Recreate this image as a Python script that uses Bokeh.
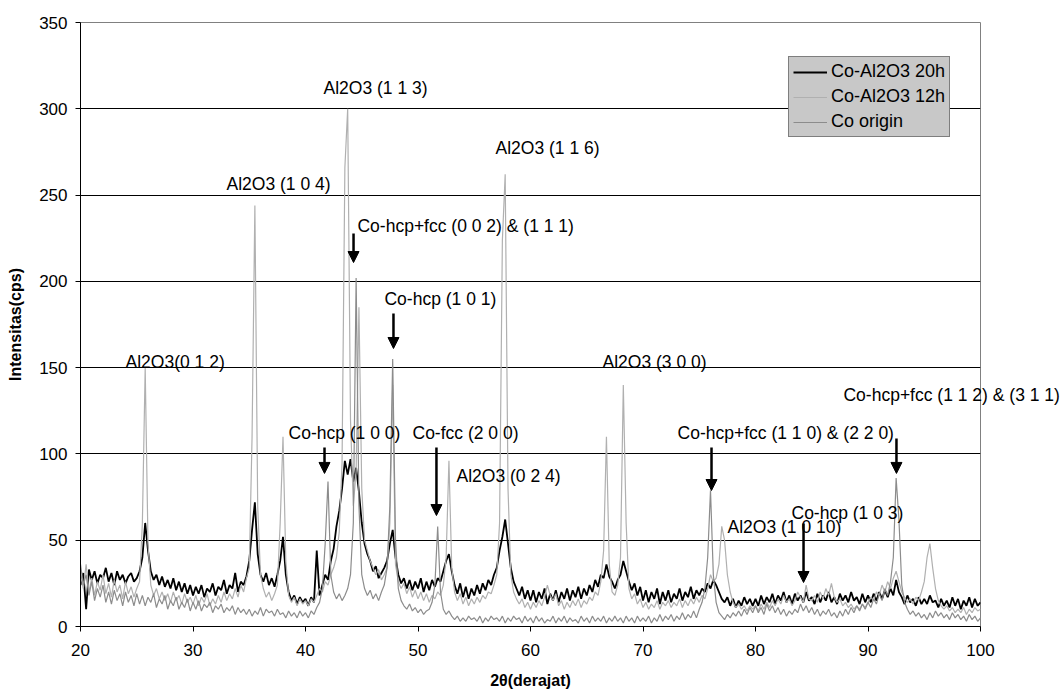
from bokeh.plotting import figure
from bokeh.models import Label, Arrow, NormalHead, Legend, LegendItem, FixedTicker
from bokeh.embed import file_html
from bokeh.resources import INLINE

# ---------------- data ----------------
two_theta_start = 20.0
two_theta_step = 0.25

series_names = ["Co-Al2O3 20h", "Co-Al2O3 12h", "Co origin"]

int_20h = [
    24, 31, 10, 33, 27, 32, 25, 30, 28, 34, 26, 31, 24, 32, 27, 30, 25, 29, 31, 26,
    28, 32, 40, 60, 44, 32, 27, 30, 24, 29, 23, 27, 22, 28, 21, 26, 20, 25, 19, 24,
    18, 23, 19, 24, 17, 22, 20, 25, 18, 23, 21, 27, 19, 24, 22, 31, 20, 26, 24, 29,
    38, 56, 72, 42, 30, 26, 31, 24, 28, 23, 30, 38, 52, 30, 20, 15, 18, 13, 17, 14,
    16, 12, 17, 14, 44, 18, 24, 30, 27, 38, 45, 58, 67, 80, 96, 88, 97, 84, 92, 78,
    60, 48, 42, 38, 32, 35, 28, 31, 34, 38, 48, 56, 40, 30, 25, 28, 22, 27, 21, 26,
    22, 28, 20, 26, 21, 27, 23, 28, 26, 32, 38, 42, 32, 24, 19, 25, 17, 23, 16, 22,
    18, 24, 19, 25, 21, 27, 24, 30, 34, 44, 52, 62, 48, 34, 26, 22, 18, 23, 16, 21,
    15, 21, 14, 20, 16, 22, 13, 19, 15, 21, 14, 20, 16, 22, 15, 21, 17, 23, 16, 22,
    18, 24, 20, 27, 23, 30, 28, 36, 29, 26, 22, 27, 30, 38, 32, 26, 21, 25, 18, 23,
    15, 21, 14, 20, 16, 22, 13, 20, 15, 21, 14, 19, 16, 22, 15, 20, 17, 23, 16, 21,
    18, 22, 20, 25, 22, 27, 24, 20, 16, 14, 17, 12, 16, 11, 15, 12, 17, 13, 16, 12,
    16, 12, 18, 13, 17, 14, 19, 13, 18, 15, 20, 14, 18, 13, 19, 15, 18, 14, 20, 15,
    17, 13, 19, 14, 18, 15, 20, 14, 17, 13, 19, 15, 18, 14, 20, 15, 17, 13, 19, 14,
    18, 14, 19, 15, 20, 16, 21, 17, 22, 18, 27, 20, 17, 13, 18, 14, 16, 12, 17, 13,
    16, 13, 18, 14, 15, 11, 16, 12, 15, 11, 17, 12, 16, 10, 15, 12, 17, 11, 16, 12,
    14,
]

int_12h = [
    30, 22, 36, 20, 28, 18, 26, 21, 30, 19, 25, 17, 27, 20, 24, 16, 26, 19, 23, 17,
    22, 26, 60, 150, 48, 24, 18, 22, 16, 20, 15, 19, 14, 20, 15, 18, 13, 19, 14, 17,
    13, 18, 12, 17, 14, 19, 12, 16, 13, 18, 14, 20, 15, 19, 16, 22, 17, 24, 20, 28,
    34, 110, 244, 70, 30, 22, 17, 20, 15, 19, 24, 60, 110, 38, 18, 14, 17, 12, 16, 13,
    15, 12, 16, 14, 18, 22, 20, 26, 24, 30, 34, 40, 55, 95, 266, 300, 120, 70, 90, 185,
    80, 50, 44, 38, 34, 30, 33, 27, 30, 34, 60, 140, 36, 26, 22, 25, 19, 23, 17, 21,
    16, 20, 15, 19, 14, 18, 16, 20, 18, 24, 40, 96, 34, 20, 15, 19, 13, 17, 12, 16,
    13, 17, 14, 18, 16, 20, 19, 24, 30, 60, 224, 262, 80, 30, 20, 16, 13, 16, 11, 14,
    10, 14, 11, 15, 12, 17, 24, 18, 15, 19, 12, 15, 10, 14, 11, 15, 12, 16, 11, 15,
    13, 17, 15, 20, 18, 26, 44, 110, 36, 20, 18, 24, 40, 140, 60, 22, 16, 19, 13, 16,
    11, 14, 10, 13, 11, 15, 10, 14, 12, 15, 11, 14, 12, 16, 11, 15, 12, 16, 13, 17,
    14, 18, 16, 22, 30, 26, 28, 36, 58, 50, 30, 20, 14, 11, 13, 10, 12, 9, 12, 10,
    12, 9, 13, 10, 14, 11, 15, 12, 16, 13, 18, 14, 16, 12, 15, 20, 17, 14, 24, 16,
    15, 18, 14, 20, 16, 22, 18, 25, 17, 14, 16, 12, 14, 11, 13, 10, 12, 10, 13, 11,
    14, 17, 15, 20, 18, 24, 20, 26, 22, 28, 32, 26, 20, 17, 14, 16, 13, 17, 15, 20,
    26, 40, 48, 34, 22, 15, 12, 10, 12, 9, 11, 8, 10, 8, 11, 7, 10, 8, 11, 9,
    10,
]

int_origin = [
    36, 24, 30, 18, 26, 15, 22, 17, 24, 14, 20, 13, 21, 15, 19, 12, 20, 14, 18, 12,
    19, 13, 18, 12, 17, 14, 19, 11, 16, 13, 18, 10, 15, 12, 17, 10, 14, 11, 16, 9,
    14, 10, 15, 9, 13, 11, 14, 8, 12, 10, 13, 8, 11, 9, 12, 7, 11, 8, 10, 7,
    10, 6, 9, 7, 11, 6, 10, 8, 9, 6, 10, 7, 8, 5, 9, 6, 8, 5, 9, 6,
    8, 5, 9, 7, 11, 14, 22, 48, 84, 30, 20, 16, 19, 15, 18, 22, 30, 60, 202, 70,
    30, 22, 18, 21, 16, 19, 15, 20, 24, 34, 70, 155, 50, 22, 15, 12, 10, 13, 9, 11,
    8, 10, 7, 9, 10, 14, 24, 58, 20, 10, 7, 9, 6, 4, 6, 3, 5, 3, 6, 4,
    5, 3, 6, 2, 5, 3, 6, 4, 5, 3, 6, 2, 5, 3, 6, 4, 5, 2, 6, 3,
    5, 2, 6, 3, 5, 2, 4, 3, 6, 2, 5, 3, 6, 2, 5, 3, 4, 2, 6, 3,
    5, 2, 6, 3, 5, 3, 6, 2, 5, 3, 6, 3, 5, 2, 6, 3, 5, 2, 6, 3,
    5, 3, 6, 2, 5, 3, 7, 3, 6, 4, 7, 3, 6, 4, 8, 4, 7, 5, 9, 5,
    10, 14, 22, 40, 79, 30, 14, 8, 6, 4, 7, 5, 8, 6, 9, 6, 10, 7, 11, 8,
    12, 8, 11, 7, 13, 9, 12, 8, 11, 7, 10, 6, 9, 7, 10, 8, 13, 9, 12, 8,
    11, 7, 10, 6, 9, 7, 10, 6, 8, 5, 9, 6, 10, 7, 11, 8, 12, 9, 13, 10,
    14, 11, 16, 13, 19, 15, 22, 18, 26, 40, 86, 62, 24, 14, 10, 7, 9, 6, 8, 5,
    7, 4, 8, 5, 9, 6, 8, 5, 7, 4, 8, 5, 7, 4, 6, 3, 7, 4, 6, 3,
    5,
]

x_ticks = [20, 30, 40, 50, 60, 70, 80, 90, 100]
y_ticks = [0, 50, 100, 150, 200, 250, 300, 350]

peak_labels = [
    "Al2O3(0 1 2)", "Al2O3 (1 0 4)", "Al2O3 (1 1 3)", "Co-hcp+fcc (0 0 2) & (1 1 1)",
    "Al2O3 (1 1 6)", "Co-hcp (1 0 1)", "Al2O3 (3 0 0)",
    "Co-hcp (1 0 0)", "Co-fcc (2 0 0)", "Al2O3 (0 2 4)", "Co-hcp+fcc (1 1 0) & (2 2 0)",
    "Al2O3 (1 0 10)", "Co-hcp (1 0 3)",
]
# label anchor (left, middle) in data units
label_x = [24.0, 32.98, 41.6, 44.62, 56.89, 47.02, 66.4,
           38.49, 49.51, 53.42, 73.07, 77.51, 83.2]
label_y = [153, 256.7, 311.8, 231.8, 277, 190, 153,
           112.4, 112.4, 87.5, 112.4, 57.4, 65.5]

# the one label that runs past the right edge of the plot area
edge_label = "Co-hcp+fcc (1 1 2) & (3 1 1)"
edge_label_x = 87.82
edge_label_y = 134.4

# arrows: x, y_start, y_end (data units)
arrow_x = [44.27, 47.82, 41.69, 51.64, 76.09, 92.53, 84.27]
arrow_y0 = [227.7, 181.4, 103.7, 103.7, 103.7, 108.9, 59.7]
arrow_y1 = [210.9, 161.1, 88.7, 64.3, 78.8, 88.7, 25.5]

# ---------------- figure ----------------
FONT = "Liberation Sans"
ANN_SIZE = "17.5px"

def grid_x(vals):
    return [two_theta_start + i * two_theta_step for i in range(len(vals))]

p = figure(width=1061, height=691, x_range=(20, 100), y_range=(0, 350),
           output_backend="svg", toolbar_location=None,
           min_border_left=80, min_border_right=81, min_border_top=22,
           min_border_bottom=65)
p.background_fill_color = "white"
p.border_fill_color = "white"
p.outline_line_color = "#808080"
p.outline_line_width = 1

r20 = p.line(grid_x(int_20h), int_20h, line_color="black", line_width=1.8)
r12 = p.line(grid_x(int_12h), int_12h, line_color="#b0b0b0", line_width=1.2)
r0 = p.line(grid_x(int_origin), int_origin, line_color="#8c8c8c", line_width=1.2)

p.xgrid.visible = False
p.ygrid.ticker = FixedTicker(ticks=y_ticks)
p.ygrid.grid_line_color = "black"
p.ygrid.grid_line_width = 1

for ax, ticks in ((p.xaxis[0], x_ticks), (p.yaxis[0], y_ticks)):
    ax.ticker = FixedTicker(ticks=ticks)
    ax.minor_tick_line_color = None
    ax.major_tick_in = 0
    ax.major_tick_out = 5
    ax.axis_line_color = "black"
    ax.major_tick_line_color = "black"
    ax.major_label_text_font = FONT
    ax.major_label_text_font_size = "17px"
    ax.major_label_text_color = "black"
    ax.axis_label_text_font = FONT
    ax.axis_label_text_font_style = "bold"
    ax.axis_label_text_font_size = "16px"
    ax.axis_label_text_color = "black"

p.xaxis.axis_label = "2θ(derajat)"
p.yaxis.axis_label = "Intensitas(cps)"
p.xaxis.major_label_standoff = 12
p.yaxis.major_label_standoff = 8
p.xaxis.axis_label_standoff = 13
p.yaxis.axis_label_standoff = 12

for t, lx, ly in zip(peak_labels, label_x, label_y):
    p.add_layout(Label(x=lx, y=ly, text=t, text_font=FONT, text_font_size=ANN_SIZE,
                       text_color="black", text_align="left",
                       text_baseline="middle"))

# placed in the (thin) top panel so that it is not clipped at the plot frame
p.add_layout(Label(x=edge_label_x, y=edge_label_y, text=edge_label, text_font=FONT,
                   text_font_size=ANN_SIZE, text_color="black", text_align="left",
                   text_baseline="middle"), "above")

for ax_, y0, y1 in zip(arrow_x, arrow_y0, arrow_y1):
    p.add_layout(Arrow(end=NormalHead(size=11, fill_color="black",
                                      line_color="black"),
                       x_start=ax_, y_start=y0, x_end=ax_, y_end=y1,
                       line_color="black", line_width=2.5))

legend = Legend(items=[LegendItem(label=series_names[0], renderers=[r20]),
                       LegendItem(label=series_names[1], renderers=[r12]),
                       LegendItem(label=series_names[2], renderers=[r0])],
                location=(708, 489))
legend.background_fill_color = "#c8c8c8"
legend.background_fill_alpha = 1.0
legend.border_line_color = "#333333"
legend.border_line_width = 1
legend.label_text_font = FONT
legend.label_text_font_size = "18px"
legend.label_text_color = "black"
legend.glyph_width = 34
legend.glyph_height = 20
legend.label_height = 20
legend.label_standoff = 4
legend.padding = 4
legend.spacing = 4
legend.margin = 0
p.add_layout(legend)

open("out.html", "w").write(file_html(p, INLINE))
